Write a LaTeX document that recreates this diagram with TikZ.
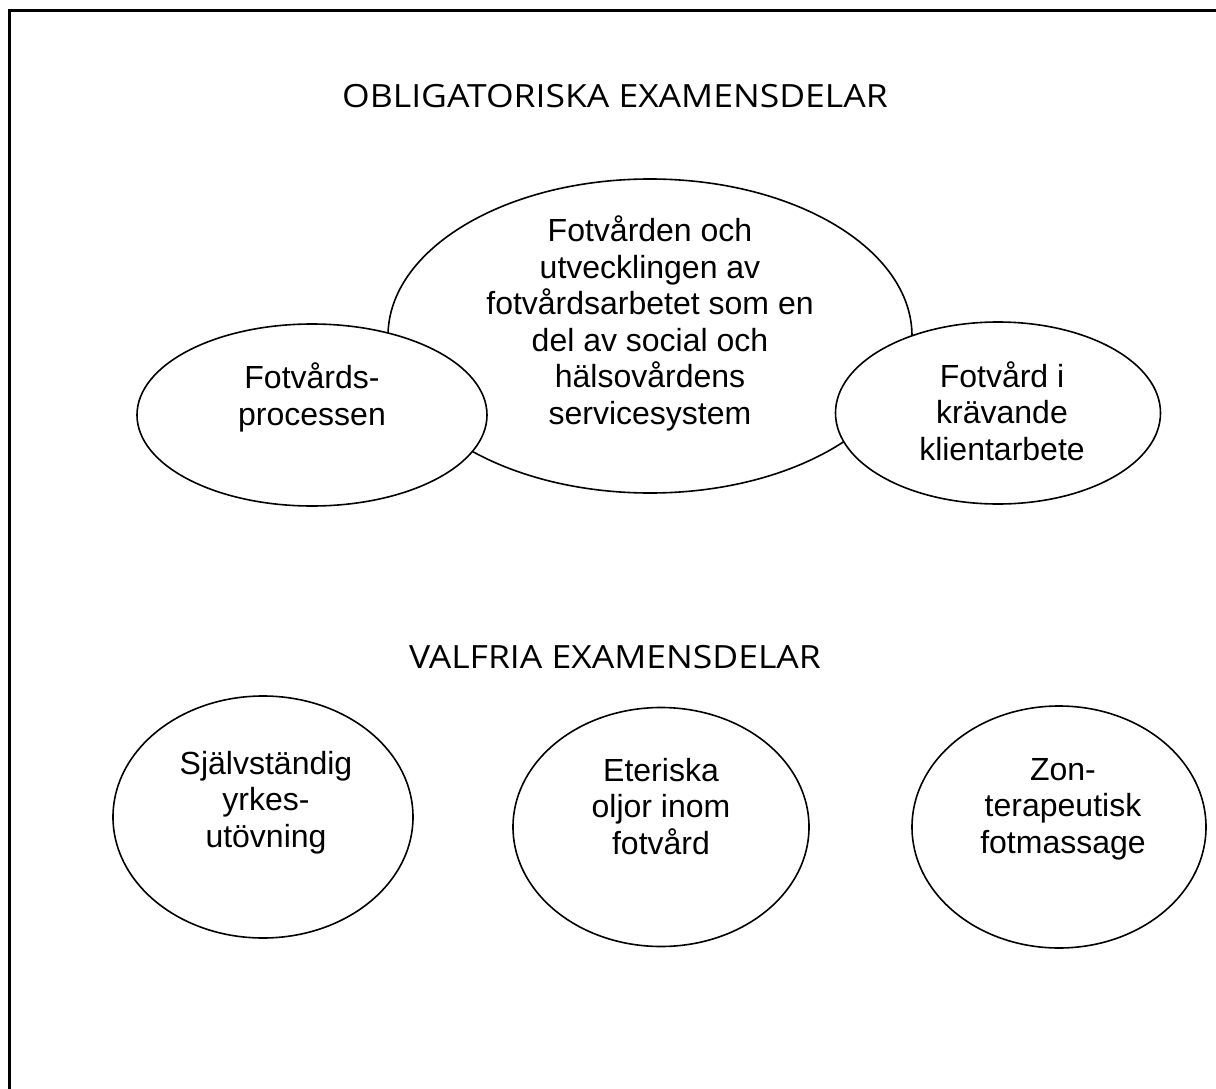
\documentclass[tikz,border=0pt]{standalone}
\usepackage{fontspec}
\usetikzlibrary{shapes.geometric}
\setmainfont{Liberation Sans}
\newfontfamily\titlefont[FakeStretch=1.11]{Open Sans}
\begin{document}
\begin{tikzpicture}[x=1pt,y=-1pt,
  ell/.style={draw=black,line width=1.6pt,fill=white,ellipse,inner sep=0pt},
  lbl/.style={align=center,font=\fontsize{32}{36.5}\selectfont,anchor=base,inner sep=0pt},
  ttl/.style={font=\titlefont\fontsize{32}{36}\selectfont,anchor=base,inner sep=0pt}]
\useasboundingbox (0,0) rectangle (1216,1089);
\coordinate (bl) at (9,1095);
\coordinate (tl) at (9,11);
\coordinate (tr) at (1222,11);
\draw[line width=3pt] (bl) -- (tl) -- (tr);
\node[ttl] (t1) at (615,108) {OBLIGATORISKA EXAMENSDELAR};
\node[ttl] (t2) at (615,668) {VALFRIA EXAMENSDELAR};
% upper ellipses
\path (650,336) node[ell,minimum width=524pt,minimum height=314pt] (c) {};
\path (312,415) node[ell,minimum width=350pt,minimum height=182pt] (l) {};
\path (998,413) node[ell,minimum width=325pt,minimum height=182pt] (r) {};
\node[lbl] (ct) at (650,424) {Fotvården och\\utvecklingen av\\fotvårdsarbetet som en\\del av social och\\hälsovårdens\\servicesystem};
\node[lbl] (lt) at (312,425) {Fotvårds-\\processen};
\node[lbl] (rt) at (1002,460) {Fotvård i\\krävande\\klientarbete};
% lower ellipses
\path (263,817) node[ell,minimum width=300pt,minimum height=242pt] (b1) {};
\path (661,827) node[ell,minimum width=296pt,minimum height=239pt] (b2) {};
\path (1059,827) node[ell,minimum width=294pt,minimum height=242pt] (b3) {};
\node[lbl] (b1t) at (266,847) {Självständig\\yrkes-\\utövning};
\node[lbl] (b2t) at (661,854) {Eteriska\\oljor inom\\fotvård};
\node[lbl] (b3t) at (1063,853) {Zon-\\terapeutisk\\fotmassage};
\end{tikzpicture}
\end{document}
